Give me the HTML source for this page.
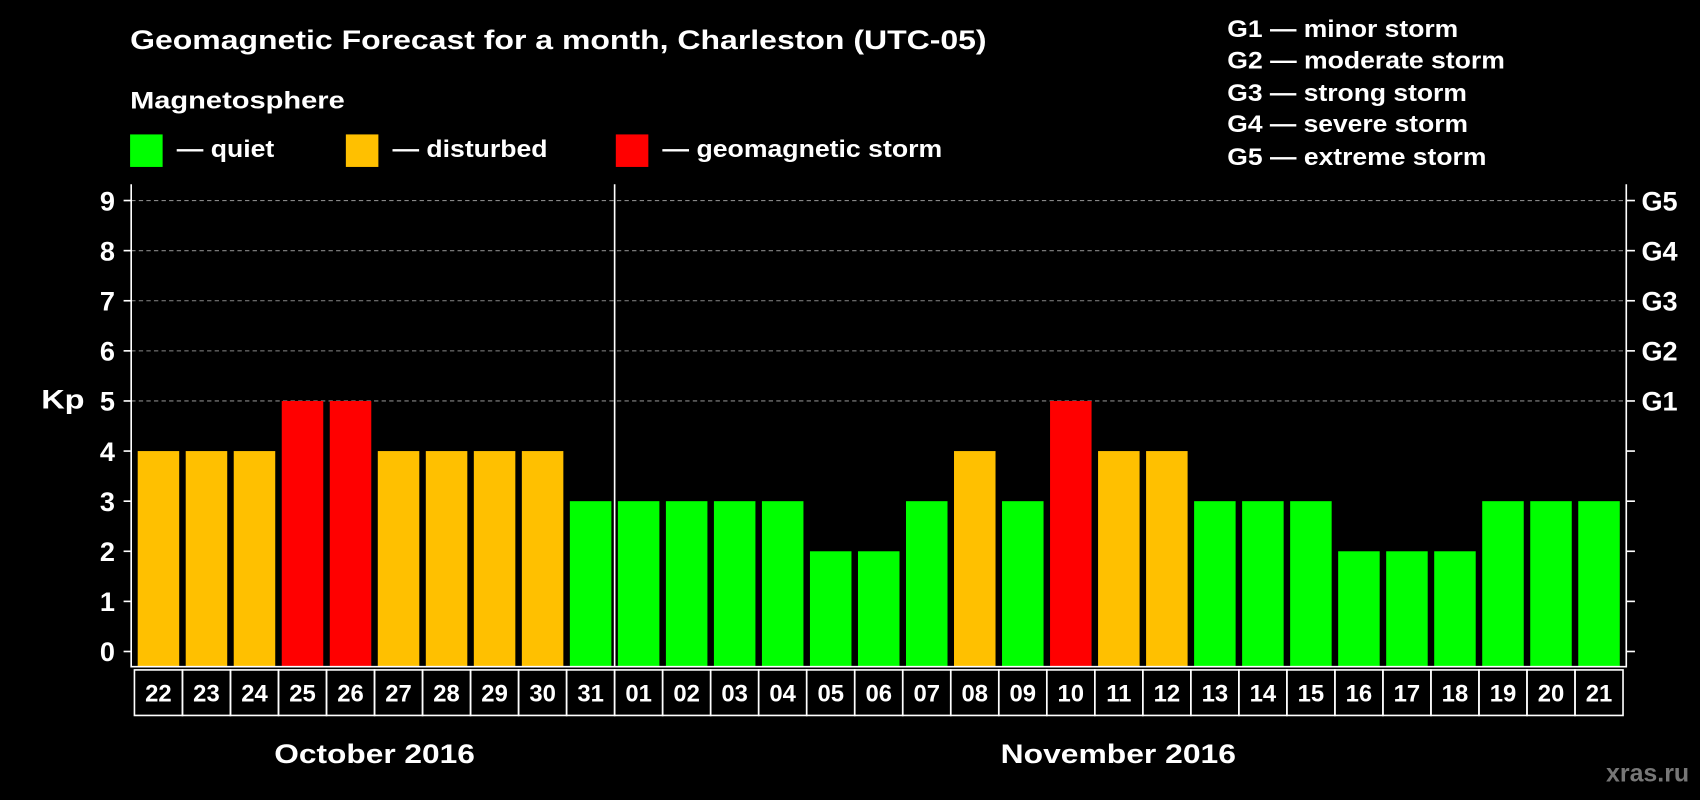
<!DOCTYPE html>
<html><head><meta charset="utf-8"><style>
html,body{margin:0;padding:0;background:#000;width:1700px;height:800px;overflow:hidden}
svg{display:block}
text{font-family:"Liberation Sans",Arial,sans-serif;font-weight:bold;fill:#fff}
</style></head><body>
<svg id="chart" width="1700" height="800" viewBox="0 0 1568 738" preserveAspectRatio="none" xmlns="http://www.w3.org/2000/svg">
<rect width="1568" height="738" fill="#000"/>
<text x="120" y="45" font-size="25" textLength="790" lengthAdjust="spacingAndGlyphs">Geomagnetic Forecast for a month, Charleston (UTC-05)</text>
<text x="120" y="100" font-size="22" textLength="198" lengthAdjust="spacingAndGlyphs">Magnetosphere</text>
<g>
<rect x="120" y="124" width="30" height="30" fill="#00ff00"/>
<text x="163" y="145" font-size="22" textLength="90" lengthAdjust="spacingAndGlyphs">— quiet</text>
<rect x="319" y="124" width="30" height="30" fill="#ffc000"/>
<text x="362" y="145" font-size="22" textLength="143" lengthAdjust="spacingAndGlyphs">— disturbed</text>
<rect x="568" y="124" width="30" height="30" fill="#ff0000"/>
<text x="611" y="145" font-size="22" textLength="258" lengthAdjust="spacingAndGlyphs">— geomagnetic storm</text>
</g>
<g font-size="22">
<text x="1132" y="34" textLength="213" lengthAdjust="spacingAndGlyphs">G1 — minor storm</text>
<text x="1132" y="63" textLength="256" lengthAdjust="spacingAndGlyphs">G2 — moderate storm</text>
<text x="1132" y="93" textLength="221" lengthAdjust="spacingAndGlyphs">G3 — strong storm</text>
<text x="1132" y="122" textLength="222" lengthAdjust="spacingAndGlyphs">G4 — severe storm</text>
<text x="1132" y="152" textLength="239" lengthAdjust="spacingAndGlyphs">G5 — extreme storm</text>
</g>
<text x="38" y="377" font-size="25" textLength="40" lengthAdjust="spacingAndGlyphs">Kp</text>
<text x="253" y="704" font-size="25" textLength="185" lengthAdjust="spacingAndGlyphs">October 2016</text>
<text x="923" y="704" font-size="25" textLength="217" lengthAdjust="spacingAndGlyphs">November 2016</text>
<text x="1558" y="721" font-size="23" text-anchor="end" style="fill:#777">xras.ru</text>
<g id="plot"></g>
</svg>
<script>
const days = ["22","23","24","25","26","27","28","29","30","31","01","02","03","04","05","06","07","08","09","10","11","12","13","14","15","16","17","18","19","20","21"];
const kpValues = [4,4,4,5,5,4,4,4,4,3,3,3,3,3,2,2,3,4,3,5,4,4,3,3,3,2,2,2,3,3,3];
const yTicks = [0,1,2,3,4,5,6,7,8,9];
const gLabels = ["G1","G2","G3","G4","G5"];

const NS="http://www.w3.org/2000/svg";
const g=document.getElementById('plot');
const x0=124, colW=(1497-124)/31, y0=601, unit=(601-185)/9;
const xs=i=>x0+i*colW;
const ys=v=>y0-v*unit;
function mk(t,a){const e=document.createElementNS(NS,t);for(const k in a)e.setAttribute(k,a[k]);g.appendChild(e);return e;}
yTicks.forEach(v=>{
  if(v>=5){const l=mk('line',{x1:121,x2:1500,y1:ys(v),y2:ys(v),stroke:'#888','stroke-dasharray':'4,3','stroke-width':1});
  
  }
  const t=mk('line',{x1:114,x2:121,y1:ys(v),y2:ys(v),stroke:'#fff','stroke-width':1.5});
  
  
  const r=mk('line',{x1:1500,x2:1508,y1:ys(v),y2:ys(v),stroke:'#fff','stroke-width':1.5});
  
  
  const tx=mk('text',{x:106,y:ys(v)+9,'font-size':25,'text-anchor':'end'});
  
  
  tx.textContent=v;
});
gLabels.forEach((s,i)=>{
  const tx=mk('text',{x:1514,y:ys(5+i)+9,'font-size':25});
  
  
  tx.textContent=s;
});
kpValues.forEach((v,i)=>{
  const c=v>=5?'#ff0000':v>=4?'#ffc000':'#00ff00';
  const b=mk('rect',{x:xs(i)+3,y:ys(v),width:colW-6,height:615-ys(v),fill:c});
  
  
});
const ax=mk('path',{d:'M121,170 V615 H1500 V170',fill:'none',stroke:'#fff','stroke-width':1.5});


const dv=mk('line',{x1:xs(10),x2:xs(10),y1:170,y2:615,stroke:'#fff','stroke-width':1.5});


days.forEach((d,i)=>{
  const r=mk('rect',{x:xs(i),y:618,width:colW,height:42,fill:'none',stroke:'#fff','stroke-width':1.5});
  
  
  const t=mk('text',{x:xs(i)+colW/2,y:647,'font-size':22,'text-anchor':'middle'});
  
  
  t.textContent=d;
});
</script>
</body></html>
